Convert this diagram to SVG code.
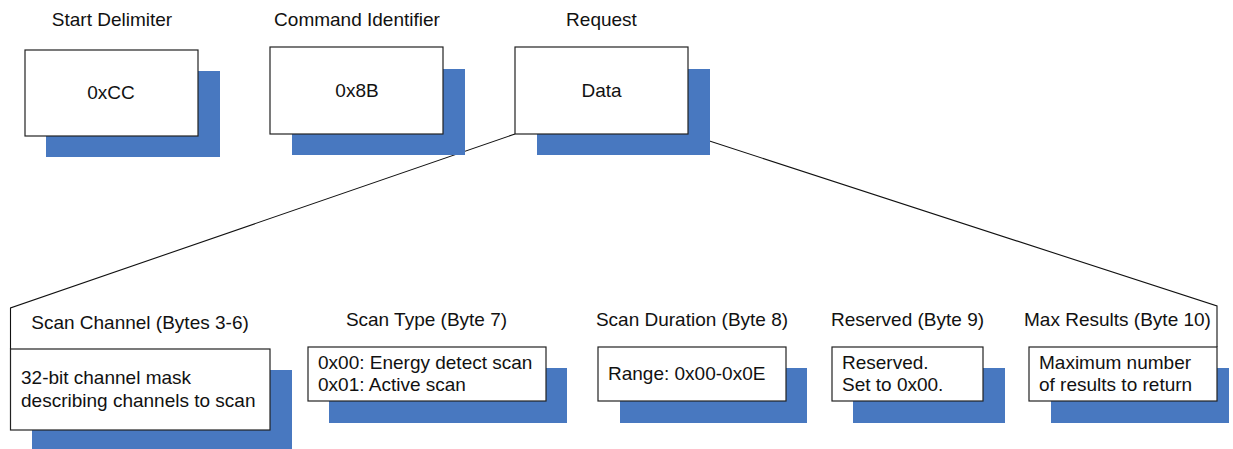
<svg xmlns="http://www.w3.org/2000/svg" width="1233" height="449" viewBox="0 0 1233 449">
<style>
.sh{fill:#4878c0}
.bx{fill:#fff;stroke:#222;stroke-width:1.2}
.t{font-family:"Liberation Sans",Arial,sans-serif;font-size:19px;fill:#111}
.m{text-anchor:middle}
.ln{fill:none;stroke:#111;stroke-width:1.1}
</style>
<rect width="1233" height="449" fill="#fff"/>
<g id="connectors">
<polyline class="ln" points="515,134 10.5,308 10.5,349"/>
<polyline class="ln" points="688,134 1217,306 1217,347"/>
</g>
<g id="start-delimiter">
<text class="t m" x="112" y="26">Start Delimiter</text>
<rect class="sh" x="46" y="71" width="174" height="86"/>
<rect class="bx" x="25" y="50" width="173" height="86"/>
<text class="t m" x="111" y="99">0xCC</text>
</g>
<g id="command-identifier">
<text class="t m" x="357" y="26">Command Identifier</text>
<rect class="sh" x="292" y="69" width="173" height="86"/>
<rect class="bx" x="270" y="47" width="173" height="87"/>
<text class="t m" x="357" y="97">0x8B</text>
</g>
<g id="request">
<text class="t m" x="601.5" y="26">Request</text>
<rect class="sh" x="537" y="69" width="173" height="86"/>
<rect class="bx" x="515" y="47" width="173" height="87"/>
<text class="t m" x="601.5" y="97">Data</text>
</g>
<g id="scan-channel">
<text class="t m" x="140" y="329">Scan Channel (Bytes 3-6)</text>
<rect class="sh" x="32" y="370" width="260" height="79"/>
<rect class="bx" x="10.5" y="349" width="259.5" height="81"/>
<text class="t" x="21" y="384">32-bit channel mask</text>
<text class="t" x="21" y="407">describing channels to scan</text>
</g>
<g id="scan-type">
<text class="t m" x="426.5" y="326">Scan Type (Byte 7)</text>
<rect class="sh" x="329" y="368" width="238" height="55"/>
<rect class="bx" x="308" y="347" width="238" height="54"/>
<text class="t" x="318" y="369">0x00: Energy detect scan</text>
<text class="t" x="318" y="391">0x01: Active scan</text>
</g>
<g id="scan-duration">
<text class="t m" x="692" y="326">Scan Duration (Byte 8)</text>
<rect class="sh" x="620" y="368" width="187" height="55"/>
<rect class="bx" x="598" y="347" width="188" height="54"/>
<text class="t" x="608" y="380">Range: 0x00-0x0E</text>
</g>
<g id="reserved">
<text class="t m" x="907.5" y="326">Reserved (Byte 9)</text>
<rect class="sh" x="853" y="368" width="152" height="55"/>
<rect class="bx" x="832" y="347" width="151" height="54"/>
<text class="t" x="842" y="369">Reserved.</text>
<text class="t" x="842" y="391">Set to 0x00.</text>
</g>
<g id="max-results">
<text class="t m" x="1117.5" y="326">Max Results (Byte 10)</text>
<rect class="sh" x="1051" y="368" width="178" height="55"/>
<rect class="bx" x="1029" y="347" width="188" height="54"/>
<text class="t" x="1039" y="369">Maximum number</text>
<text class="t" x="1039" y="391">of results to return</text>
</g>
</svg>
